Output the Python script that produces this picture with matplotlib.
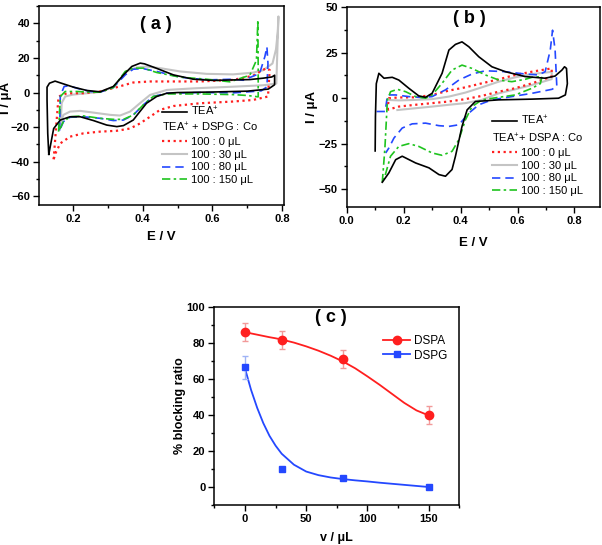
import matplotlib
matplotlib.use("Agg")
import matplotlib.pyplot as plt
from matplotlib.lines import Line2D
from matplotlib.ticker import MultipleLocator
import numpy as np

plt.rcParams['font.family'] = ['Liberation Sans', 'DejaVu Sans']
plt.rcParams['mathtext.fontset'] = 'custom'
plt.rcParams['mathtext.rm'] = 'Liberation Sans'
plt.rcParams['mathtext.bf'] = 'Liberation Sans:bold'
plt.rcParams['mathtext.it'] = 'Liberation Sans:italic'

# ---------------- Panel (a): TEA+ with DSPG : Co ----------------
a_tea_E = [0.131, 0.128, 0.126, 0.126, 0.133, 0.149, 0.173, 0.202, 0.24, 0.278, 0.316, 0.345, 0.369, 0.393,
           0.405, 0.44, 0.488, 0.545, 0.602, 0.659, 0.707, 0.745, 0.77, 0.778, 0.778, 0.76, 0.7, 0.6, 0.5,
           0.469, 0.44, 0.411, 0.392, 0.373, 0.345, 0.326, 0.297, 0.259, 0.221, 0.192, 0.164, 0.145, 0.131]
a_tea_I = [-35.7, -23.6, -4.2, 3.1, 5.4, 6.6, 5.0, 3.1, 1.2, 0.4, 3.5, 10.2, 15.1, 17.0,
           16.6, 14.0, 10.2, 7.7, 7.0, 7.3, 7.5, 8.3, 9.0, 10.0, 4.5, 2.0, 0.8, 0.3, 0.0,
           -0.4, -2.3, -6.2, -11.0, -15.9, -19.1, -19.7, -18.8, -16.2, -14.0, -14.0, -15.9, -20.8, -35.7]

a_0_E = [0.145, 0.152, 0.159, 0.183, 0.23, 0.278, 0.326, 0.373, 0.421, 0.469, 0.564, 0.659, 0.716, 0.754,
         0.764, 0.759, 0.716, 0.659, 0.564, 0.488, 0.45, 0.421, 0.392, 0.364, 0.326, 0.278, 0.23, 0.192,
         0.164, 0.15, 0.145]
a_0_I = [-38.6, -20.0, -2.3, -0.4, -0.4, 0.6, 3.1, 5.8, 6.4, 6.4, 6.4, 7.3, 9.7, 14.1,
         13.0, -2.3, -4.3, -5.2, -6.2, -7.8, -10.0, -14.0, -17.9, -20.8, -22.1, -22.6, -23.6, -25.5,
         -29.4, -35.2, -38.6]

a_30_E = [0.165, 0.168, 0.178, 0.2, 0.24, 0.278, 0.316, 0.354, 0.383, 0.411, 0.45, 0.507, 0.583, 0.659,
          0.716, 0.745, 0.772, 0.782, 0.787, 0.789, 0.786, 0.783, 0.745, 0.65, 0.554, 0.469, 0.421, 0.392,
          0.364, 0.335, 0.307, 0.259, 0.221, 0.192, 0.173, 0.165]
a_30_I = [-18.0, -6.0, -2.3, -1.2, -0.4, 0.4, 3.1, 12.2, 14.5, 15.0, 14.1, 12.2, 10.8, 10.5,
          11.5, 12.9, 16.8, 25.0, 35.0, 44.0, 25.0, 5.2, 4.2, 3.3, 2.5, 1.5, -1.4, -6.2,
          -11.0, -13.3, -12.9, -11.6, -10.6, -11.0, -12.9, -18.0]

a_80_E = [0.162, 0.164, 0.175, 0.19, 0.211, 0.25, 0.278, 0.316, 0.35, 0.373, 0.402, 0.44, 0.507, 0.583,
          0.659, 0.688, 0.735, 0.75, 0.756, 0.759, 0.756, 0.74, 0.716, 0.659, 0.564, 0.469, 0.43, 0.402,
          0.373, 0.345, 0.316, 0.278, 0.23, 0.192, 0.173, 0.162]
a_80_I = [-22.0, -2.0, 3.5, 3.9, 2.5, 0.6, 0.2, 2.9, 10.2, 13.5, 13.8, 12.2, 8.9, 7.3,
          7.7, 7.1, 11.0, 20.7, 26.4, 16.8, 3.3, 1.0, 0.6, -0.2, 0.0, -0.4, -2.3, -7.1,
          -13.0, -15.9, -16.2, -14.9, -14.0, -14.3, -16.8, -22.0]

a_150_E = [0.159, 0.164, 0.178, 0.211, 0.25, 0.278, 0.316, 0.35, 0.373, 0.402, 0.44, 0.507, 0.583, 0.65,
           0.707, 0.726, 0.73, 0.731, 0.731, 0.7, 0.659, 0.564, 0.469, 0.43, 0.402, 0.373, 0.345, 0.316,
           0.278, 0.23, 0.192, 0.173, 0.159]
a_150_I = [-22.6, -2.3, 0.6, 0.6, 0.2, 0.2, 2.9, 12.2, 14.1, 14.1, 11.6, 8.9, 7.7, 6.2,
           10.0, 18.7, 42.0, 15.0, -2.5, -1.7, -1.2, -0.8, -0.8, -2.3, -7.1, -13.0, -15.5, -15.5,
           -14.9, -13.5, -14.0, -16.8, -22.6]

# ---------------- Panel (b): TEA+ with DSPA : Co ----------------
b_tea_E = [0.100, 0.101, 0.104, 0.113, 0.131, 0.16, 0.183, 0.218, 0.253, 0.277, 0.3, 0.335, 0.359, 0.382,
           0.405, 0.429, 0.464, 0.51, 0.557, 0.627, 0.697, 0.732, 0.756, 0.765, 0.772, 0.775, 0.768, 0.744,
           0.651, 0.534, 0.452, 0.423, 0.405, 0.382, 0.37, 0.347, 0.324, 0.289, 0.242, 0.195, 0.172, 0.148, 0.125]
b_tea_I = [-29.0, -10.0, 8.0, 13.7, 11.0, 11.5, 10.0, 5.5, 1.3, 0.5, 2.7, 13.7, 26.5, 29.6,
           31.0, 28.3, 22.8, 17.3, 14.6, 11.9, 11.0, 12.2, 15.5, 17.3, 16.4, 8.0, 1.8, 0.0,
           -0.5, -0.9, -1.8, -6.4, -15.5, -31.9, -39.2, -42.9, -42.0, -38.3, -35.6, -31.9, -33.8, -41.1, -46.2]

b_0_E = [0.143, 0.148, 0.183, 0.242, 0.3, 0.359, 0.417, 0.475, 0.534, 0.592, 0.651, 0.72,
         0.72, 0.651, 0.592, 0.534, 0.475, 0.417, 0.359, 0.3, 0.242, 0.183, 0.143]
b_0_I = [-6.4, 0.0, 0.4, 0.5, 1.8, 4.2, 6.0, 8.2, 10.4, 12.8, 14.6, 16.4,
         11.9, 8.2, 5.5, 3.6, 1.3, -0.5, -1.8, -2.7, -3.6, -4.6, -6.4]

b_30_E = [0.15, 0.183, 0.23, 0.3, 0.359, 0.417, 0.475, 0.534, 0.592, 0.651, 0.72,
          0.72, 0.651, 0.592, 0.534, 0.475, 0.417, 0.359, 0.3, 0.242, 0.178]
b_30_I = [-1.0, -1.2, -1.0, -0.5, 0.9, 3.1, 6.0, 9.1, 11.5, 13.3, 14.5,
          10.5, 7.3, 4.9, 2.7, -0.9, -2.7, -3.6, -4.6, -5.5, -6.5]

b_80_E = [0.105, 0.135, 0.14, 0.143, 0.172, 0.218, 0.265, 0.3, 0.347, 0.394, 0.44, 0.487, 0.557, 0.627,
          0.674, 0.697, 0.715, 0.723, 0.732, 0.738, 0.721, 0.651, 0.58, 0.51, 0.464, 0.429, 0.394,
          0.359, 0.324, 0.277, 0.23, 0.195, 0.166, 0.148, 0.137]
b_80_I = [-7.3, -7.3, -2.0, 1.8, 1.8, 0.9, 0.4, 0.9, 4.6, 10.0, 13.3, 15.1, 14.6, 13.3,
          12.8, 14.6, 26.5, 37.4, 26.5, 6.4, 4.9, 2.7, 0.9, -0.9, -3.6, -8.2, -14.6,
          -15.5, -15.1, -13.7, -14.1, -16.4, -21.9, -27.4, -30.1]

b_150_E = [0.125, 0.134, 0.143, 0.154, 0.178, 0.207, 0.242, 0.277, 0.3, 0.335, 0.37, 0.405, 0.44, 0.487,
           0.534, 0.58, 0.627, 0.651, 0.686, 0.68, 0.651, 0.592, 0.534, 0.475, 0.44, 0.417, 0.394,
           0.37, 0.335, 0.3, 0.253, 0.218, 0.183, 0.154, 0.131]
b_150_I = [-46.2, -28.0, -1.0, 3.6, 4.9, 3.6, 0.9, 0.0, 1.8, 8.2, 15.5, 18.2, 16.4, 12.8,
           10.0, 9.1, 10.4, 11.5, 11.9, 8.0, 5.5, 1.8, 0.5, -0.9, -4.6, -11.9, -22.8,
           -29.2, -31.4, -30.1, -26.5, -25.0, -26.5, -31.9, -44.7]

# ---------------- Panel (c): blocking ratio ----------------
vol = [0, 30, 80, 150]
dspa = [86, 82, 71, 40]
dspa_err = [5, 5, 5, 5]
dspg = [66.5, 10, 5, 0]
dspg_err = [6.5, 0, 0, 0]
# fitted curves
fit_x = [0, 5, 10, 15, 20, 25, 30, 40, 50, 60, 70, 80, 90, 100, 110, 120, 130, 140, 150]
dspa_fit = [86, 85.4, 84.7, 84, 83.3, 82.7, 82.0, 80.3, 78.2, 75.8, 73.0, 69.8, 66.0, 61.5, 56.8, 51.8, 46.8, 42.6, 39.8]
dspg_fit = [66, 54, 44, 35.5, 28.5, 23, 18.5, 12.4, 8.6, 6.6, 5.3, 4.4, 3.7, 3.1, 2.4, 1.8, 1.2, 0.6, 0.0]

RED = '#ff1f1f'
GREY = '#c4c4c4'
BLUE = '#2448ff'
GREEN = '#1fc41f'
DOT = (0, (1.0, 1.6))
DASH = (0, (5, 3))
DASHDOT = (0, (5, 2, 1.5, 2))

fig = plt.figure(figsize=(6.02, 5.45), dpi=100)

def style_axes(ax, xmaj, xmin, ymaj, ymin):
    for s in ax.spines.values():
        s.set_linewidth(1.1)
    ax.xaxis.set_major_locator(MultipleLocator(xmaj))
    ax.xaxis.set_minor_locator(MultipleLocator(xmin))
    ax.yaxis.set_major_locator(MultipleLocator(ymaj))
    ax.yaxis.set_minor_locator(MultipleLocator(ymin))
    ax.tick_params(which='major', direction='out', length=4.5, width=1.0, labelsize=8, pad=2)
    ax.tick_params(which='minor', direction='out', length=2.5, width=1.0)
    for lab in ax.get_xticklabels() + ax.get_yticklabels():
        lab.set_fontweight('bold')

def cv_panel(ax, data):
    tea, s0, s30, s80, s150 = data
    ax.plot(s30[0], s30[1], color=GREY, lw=1.5, zorder=2)
    ax.plot(s0[0], s0[1], color=RED, lw=1.6, ls=DOT, zorder=3)
    ax.plot(s80[0], s80[1], color=BLUE, lw=1.2, ls=DASH, zorder=3)
    ax.plot(s150[0], s150[1], color=GREEN, lw=1.2, ls=DASHDOT, zorder=3)
    ax.plot(tea[0], tea[1], color='black', lw=1.2, zorder=4)

def cv_legends(ax, x0, y1, y2, header):
    h1 = [Line2D([], [], color='black', lw=1.2)]
    leg1 = ax.legend(h1, ['TEA$^{+}$'], loc='upper left', bbox_to_anchor=(x0, y1),
                     frameon=False, fontsize=8, handlelength=2.25, handletextpad=0.35,
                     borderpad=0, borderaxespad=0)
    ax.add_artist(leg1)
    h2 = [Line2D([], [], color=RED, lw=1.6, ls=DOT),
          Line2D([], [], color=GREY, lw=1.5),
          Line2D([], [], color=BLUE, lw=1.2, ls=DASH),
          Line2D([], [], color=GREEN, lw=1.2, ls=DASHDOT)]
    labs = ['100 : 0 μL', '100 : 30 μL', '100 : 80 μL', '100 : 150 μL']
    ax.legend(h2, labs, loc='upper left', bbox_to_anchor=(x0, y2), title=header,
              title_fontsize=8, alignment='left',
              frameon=False, fontsize=8, handlelength=2.25, handletextpad=0.35,
              borderpad=0, borderaxespad=0, labelspacing=0.25)

# (a)
axa = fig.add_axes([0.0648, 0.6239, 0.407, 0.365])
cv_panel(axa, [(a_tea_E, a_tea_I), (a_0_E, a_0_I), (a_30_E, a_30_I), (a_80_E, a_80_I), (a_150_E, a_150_I)])
axa.set_xlim(0.103, 0.805)
axa.set_ylim(-65, 50)
style_axes(axa, 0.2, 0.1, 20, 10)
axa.set_xlabel('E / V', fontsize=9.5, fontweight='bold')
axa.set_ylabel('I / μA', fontsize=9.5, fontweight='bold')
axa.xaxis.set_label_coords(0.5, -0.13)
axa.yaxis.set_label_coords(-0.112, 0.54)
axa.text(0.438, 39.4, '( a )', fontsize=13, fontweight='bold', ha='center', va='center')
cv_legends(axa, 0.501, 0.5015, 0.423, 'TEA$^{+}$ + DSPG : Co')

# (b)
axb = fig.add_axes([0.5759, 0.6196, 0.42, 0.367])
cv_panel(axb, [(b_tea_E, b_tea_I), (b_0_E, b_0_I), (b_30_E, b_30_I), (b_80_E, b_80_I), (b_150_E, b_150_I)])
axb.set_xlim(0.0, 0.888)
axb.set_ylim(-60, 50)
style_axes(axb, 0.2, 0.1, 25, 12.5)
axb.set_xlabel('E / V', fontsize=9.5, fontweight='bold')
axb.set_ylabel('I / μA', fontsize=9.5, fontweight='bold')
axb.xaxis.set_label_coords(0.5, -0.148)
axb.yaxis.set_label_coords(-0.113, 0.5)
axb.text(0.43, 43.8, '( b )', fontsize=13, fontweight='bold', ha='center', va='center')
cv_legends(axb, 0.5736, 0.4655, 0.3775, 'TEA$^{+}$+ DSPA : Co')

# (c)
axc = fig.add_axes([0.356, 0.0734, 0.407, 0.363])
axc.plot(fit_x, dspa_fit, color=RED, lw=1.3, zorder=2)
axc.plot(fit_x, dspg_fit, color=BLUE, lw=1.3, zorder=2)
axc.errorbar(vol, dspa, yerr=dspa_err, fmt='none', ecolor='#f29a9a', elinewidth=1.0, capsize=2, capthick=1.0, zorder=3)
axc.errorbar(vol[:1], dspg[:1], yerr=dspg_err[:1], fmt='none', ecolor='#9fb3f5', elinewidth=1.0, capsize=2, capthick=1.0, zorder=3)
axc.plot(vol, dspa, 'o', color=RED, ms=6, zorder=4)
axc.plot(vol, dspg, 's', color=BLUE, ms=5, zorder=4)
axc.set_xlim(-25, 175)
axc.set_ylim(-10, 100)
style_axes(axc, 50, 25, 20, 10)
axc.set_xlabel('v / μL', fontsize=9, fontweight='bold')
axc.set_ylabel('% blocking ratio', fontsize=9, fontweight='bold')
axc.xaxis.set_label_coords(0.5, -0.135)
axc.yaxis.set_label_coords(-0.115, 0.5)
axc.text(70, 94, '( c )', fontsize=13, fontweight='bold', ha='center', va='center')
hc = [Line2D([], [], color=RED, lw=1.3, marker='o', ms=6),
      Line2D([], [], color=BLUE, lw=1.3, marker='s', ms=5)]
axc.legend(hc, ['DSPA', 'DSPG'], loc='upper left', bbox_to_anchor=(0.69, 0.861), frameon=False,
           fontsize=8.5, handlelength=2.25, handletextpad=0.35, borderpad=0, borderaxespad=0,
           labelspacing=0.25)

fig.savefig('out.png', dpi=100)
